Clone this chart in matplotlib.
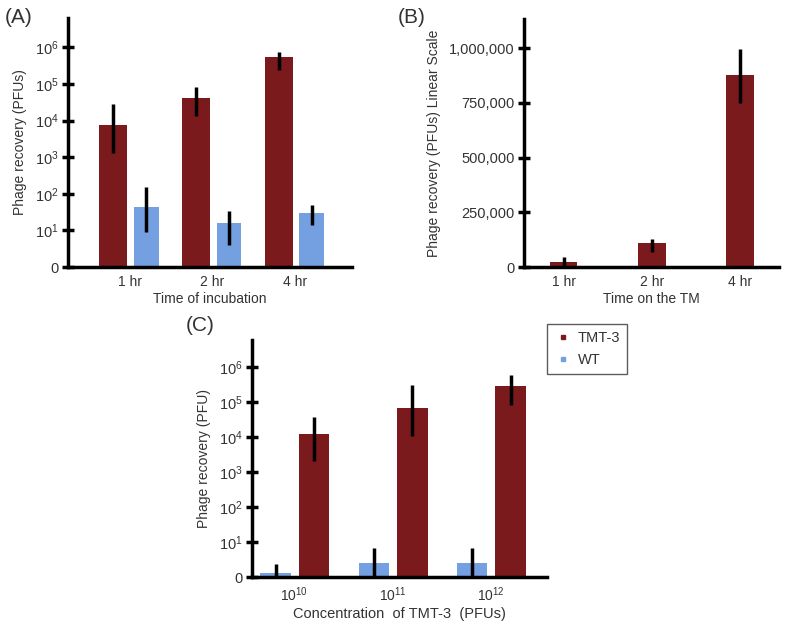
import numpy as np
import matplotlib
matplotlib.use('Agg')
import matplotlib.pyplot as plt
from matplotlib.lines import Line2D

plt.rcParams['font.family'] = ['Liberation Sans', 'DejaVu Sans']
plt.rcParams['mathtext.fontset'] = 'custom'
plt.rcParams['mathtext.rm'] = 'Liberation Sans'
plt.rcParams['mathtext.it'] = 'Liberation Sans'
plt.rcParams['text.color'] = '#333333'
plt.rcParams['xtick.color'] = '#333333'
plt.rcParams['ytick.color'] = 'black'
plt.rcParams['ytick.labelcolor'] = '#333333'
plt.rcParams['axes.labelcolor'] = '#333333'

red = '#7a1a1d'
blue = '#74a0e2'

### (A) incubation time, log scale (PFUs)
horas_a = ['1 hr', '2 hr', '4 hr']
tmt_a = [7.6e3, 4.2e4, 5.5e5]
tmt_a_hi = [2.8e4, 8.3e4, 7.4e5]
tmt_a_lo = [1.3e3, 1.35e4, 2.4e5]
wt_a = [44, 16, 30]
wt_a_hi = [155, 34, 49]
wt_a_lo = [9, 4, 14]

### (B) time on the TM, linear scale
horas_b = ['1 hr', '2 hr', '4 hr']
tmt_b = [22000, 110000, 877000]
tmt_b_hi = [45000, 128000, 996000]
tmt_b_lo = [2000, 70000, 750000]

### (C) concentration of TMT-3
conc_c = ['$10^{10}$', '$10^{11}$', '$10^{12}$']
wt_c = [1.3, 2.5, 2.5]
wt_c_hi = [2.35, 6.8, 6.8]
wt_c_lo = [1.0, 1.0, 1.0]
tmt_c = [1.2e4, 6.8e4, 2.9e5]
tmt_c_hi = [3.7e4, 3.1e5, 5.9e5]
tmt_c_lo = [2.0e3, 1.07e4, 8.1e4]

log_ticks = [1, 10, 100, 1e3, 1e4, 1e5, 1e6]
log_labels = ['0'] + ['$10^{%d}$' % k for k in range(1, 7)]

fig = plt.figure(figsize=(7.87, 6.22), dpi=100)

def estilo(ax):
    for s in ['top', 'right']:
        ax.spines[s].set_visible(False)
    for s in ['left', 'bottom']:
        ax.spines[s].set_linewidth(2.5)
    ax.tick_params(axis='y', direction='inout', length=9, width=2.5, labelsize=10.5, pad=2)
    ax.tick_params(axis='x', length=0, labelsize=10, pad=6)
    ax.minorticks_off()

def barras(ax, x, vals, lo, hi, cor, w):
    vals = np.array(vals); lo = np.array(lo); hi = np.array(hi)
    ax.bar(x, vals, width=w, color=cor, bottom=0, zorder=2)
    ax.errorbar(x, vals, yerr=[vals - lo, hi - vals], fmt='none', ecolor='black',
                elinewidth=2.5, capsize=0, zorder=3)

# ---------- (A)
axA = fig.add_axes([0.0864, 0.5707, 0.361, 0.4003])
xa = np.arange(3)
axA.set_yscale('log')
barras(axA, xa - 0.2, tmt_a, tmt_a_lo, tmt_a_hi, red, 0.34)
barras(axA, xa + 0.2, wt_a, wt_a_lo, wt_a_hi, blue, 0.30)
axA.set_ylim(1, 10**6.8)
axA.set_xlim(-0.75, 2.69)
axA.set_yticks(log_ticks)
axA.set_yticklabels(log_labels)
axA.set_xticks(xa)
axA.set_xticklabels(horas_a)
axA.set_xlabel('Time of incubation', fontsize=10, labelpad=2)
axA.set_ylabel('Phage recovery (PFUs)', fontsize=10, labelpad=6)
estilo(axA)
fig.text(0.006, 0.972, '(A)', fontsize=15, va='center')

# ---------- (B)
axB = fig.add_axes([0.6658, 0.5707, 0.324, 0.3987])
xb = np.arange(3)
barras(axB, xb, tmt_b, tmt_b_lo, tmt_b_hi, red, 0.31)
axB.set_ylim(0, 1.133e6)
axB.set_xlim(-0.45, 2.44)
axB.set_yticks([0, 250000, 500000, 750000, 1000000])
axB.set_yticklabels(['0' if v == 0 else f'{v:,}' for v in [0, 250000, 500000, 750000, 1000000]])
axB.set_xticks(xb)
axB.set_xticklabels(horas_b)
axB.set_xlabel('Time on the TM', fontsize=10, labelpad=2)
axB.set_ylabel('Phage recovery (PFUs) Linear Scale', fontsize=10, labelpad=6)
estilo(axB)
fig.text(0.506, 0.972, '(B)', fontsize=15, va='center')

# ---------- (C)
axC = fig.add_axes([0.3202, 0.0723, 0.3748, 0.381])
xc = np.arange(3)
axC.set_yscale('log')
barras(axC, xc - 0.19, wt_c, wt_c_lo, wt_c_hi, blue, 0.31)
barras(axC, xc + 0.2, tmt_c, tmt_c_lo, tmt_c_hi, red, 0.31)
axC.set_ylim(1, 10**6.77)
axC.set_xlim(-0.43, 2.57)
axC.set_yticks(log_ticks)
axC.set_yticklabels(log_labels)
axC.set_xticks(xc)
axC.set_xticklabels(conc_c)
axC.set_xlabel('Concentration  of TMT-3  (PFUs)', fontsize=10.5, labelpad=2)
axC.set_ylabel('Phage recovery (PFU)', fontsize=10, labelpad=6)
estilo(axC)
fig.text(0.236, 0.476, '(C)', fontsize=15, va='center')

### legenda
handles = [Line2D([], [], marker='s', ls='none', color=red, markersize=3.5, label='TMT-3'),
           Line2D([], [], marker='s', ls='none', color=blue, markersize=3.5, label='WT')]
fig.legend(handles=handles, loc='upper left', bbox_to_anchor=(0.695, 0.479), fontsize=10.5,
           frameon=True, fancybox=False, edgecolor='#333333', handletextpad=0.4,
           handlelength=1.2, borderpad=0.5, labelspacing=0.5, borderaxespad=0)

fig.savefig('out.png', dpi=100)
